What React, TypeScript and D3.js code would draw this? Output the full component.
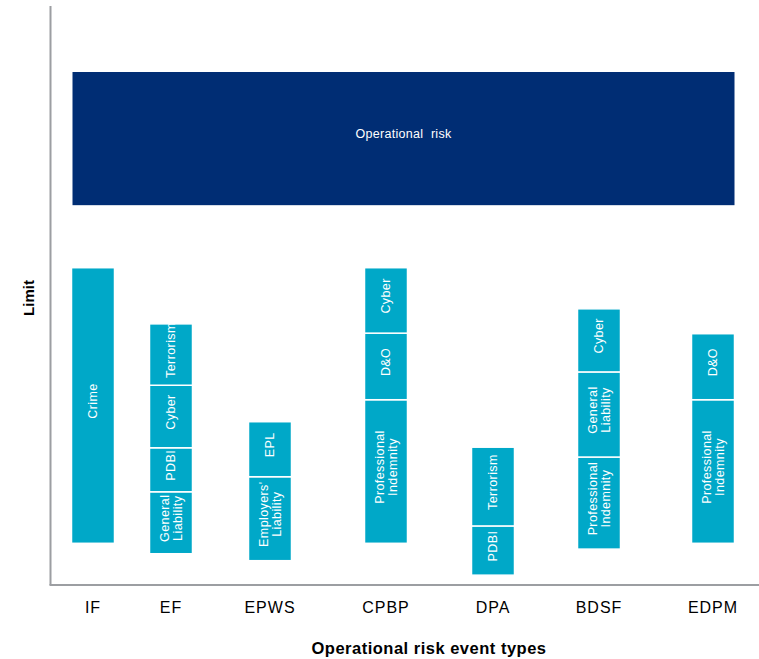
import React from "react";
import * as d3 from "d3";

// Event-type categories along the x axis
const categories = ["IF", "EF", "EPWS", "CPBP", "DPA", "BDSF", "EDPM"];

// Cover layers per event type: [category, label, lower limit, upper limit]
const segCategory = [
  "IF",
  "EF", "EF", "EF", "EF",
  "EPWS", "EPWS",
  "CPBP", "CPBP", "CPBP",
  "DPA", "DPA",
  "BDSF", "BDSF", "BDSF",
  "EDPM", "EDPM",
];
const segLabel = [
  "Crime",
  "General\nLiability", "PDBI", "Cyber", "Terrorism",
  "Employers'\nLiability", "EPL",
  "Professional\nIndemnity", "D&O", "Cyber",
  "PDBI", "Terrorism",
  "Professional\nIndemnity", "General\nLiability", "Cyber",
  "Professional\nIndemnity", "D&O",
];
const segLow = [
  7.2,
  5.4, 16.1, 23.7, 34.5,
  4.2, 18.7,
  7.2, 32.0, 43.5,
  1.7, 10.2,
  6.2, 22.1, 36.8,
  7.2, 32.0,
];
const segHigh = [
  54.8,
  16.1, 23.7, 34.5, 45.1,
  18.7, 28.2,
  32.0, 43.5, 54.8,
  10.2, 23.8,
  22.1, 36.8, 47.7,
  32.0, 43.4,
];

// Overarching operational risk layer spanning every event type
const opRiskLabel = "Operational  risk";
const opRiskLow = 65.6;
const opRiskHigh = 88.6;

const xTitle = "Operational risk event types";
const yTitle = "Limit";

const W = 759;
const H = 659;
const FONT = "'Liberation Sans', Arial, Helvetica, sans-serif";
const TEAL = "#00A8C8";
const NAVY = "#002D74";
const AXIS = "#9C9EA2";

const axisLeft = 50.5;
const axisBottom = 585;
const axisTop = 6;
const barWidth = 43;
const labelLift = 4.5;

export default function App() {
  const y = d3.scaleLinear().domain([0, 100]).range([axisBottom, axisTop]);
  const x = d3
    .scaleOrdinal<string, number>()
    .domain(categories)
    .range([93, 171, 270, 386, 493, 599, 713]);

  const segments = segLabel.map((label, i) => ({
    cat: segCategory[i],
    label,
    low: segLow[i],
    high: segHigh[i],
  }));

  const opLeft = x(categories[0]) - barWidth / 2 + 1;
  const opRight = x(categories[categories.length - 1]) + barWidth / 2;

  return (
    <svg
      width={W}
      height={H}
      style={{ position: "absolute", left: 0, top: 0, background: "#fff" }}
      fontFamily={FONT}
    >
      {/* operational risk umbrella layer */}
      <rect
        x={opLeft}
        y={y(opRiskHigh)}
        width={opRight - opLeft}
        height={y(opRiskLow) - y(opRiskHigh)}
        fill={NAVY}
      />
      <text
        x={(opLeft + opRight) / 2}
        y={(y(opRiskLow) + y(opRiskHigh)) / 2 - labelLift}
        dy="0.35em"
        textAnchor="middle"
        fill="#fff"
        fontSize={12.5}
        letterSpacing={0.3}
        style={{ whiteSpace: "pre" }}
      >
        {opRiskLabel}
      </text>

      {/* stacked cover layers */}
      {segments.map((s, i) => {
        const cx = x(s.cat);
        const top = y(s.high);
        const bottom = y(s.low);
        const cy = (top + bottom) / 2 - labelLift;
        const lines = s.label.split("\n");
        const lh = 13.5;
        return (
          <g key={i}>
            <rect
              x={cx - barWidth / 2}
              y={top}
              width={barWidth}
              height={bottom - top}
              fill={TEAL}
              stroke="#fff"
              strokeWidth={1.5}
            />
            <text
              transform={`translate(${cx},${cy}) rotate(-90)`}
              textAnchor="middle"
              fill="#fff"
              fontSize={12.5}
              letterSpacing={0.4}
            >
              {lines.map((ln, j) => (
                <tspan
                  key={j}
                  x={0}
                  y={(j - (lines.length - 1) / 2) * lh}
                  dy="0.35em"
                >
                  {ln}
                </tspan>
              ))}
            </text>
          </g>
        );
      })}

      {/* axes */}
      <line x1={axisLeft} x2={axisLeft} y1={axisTop} y2={axisBottom} stroke={AXIS} strokeWidth={2} />
      <line x1={axisLeft - 1} x2={W} y1={axisBottom} y2={axisBottom} stroke={AXIS} strokeWidth={2} />

      {categories.map((c) => (
        <text
          key={c}
          x={x(c)}
          y={613}
          textAnchor="middle"
          fontSize={16}
          letterSpacing={1}
          fill="#000"
        >
          {c}
        </text>
      ))}

      <text
        x={429}
        y={654}
        textAnchor="middle"
        fontSize={16.5}
        fontWeight="bold"
        letterSpacing={0.5}
        fill="#000"
      >
        {xTitle}
      </text>
      <text
        transform={`translate(34,298) rotate(-90)`}
        textAnchor="middle"
        fontSize={15}
        fontWeight="bold"
        fill="#000"
      >
        {yTitle}
      </text>
    </svg>
  );
}
